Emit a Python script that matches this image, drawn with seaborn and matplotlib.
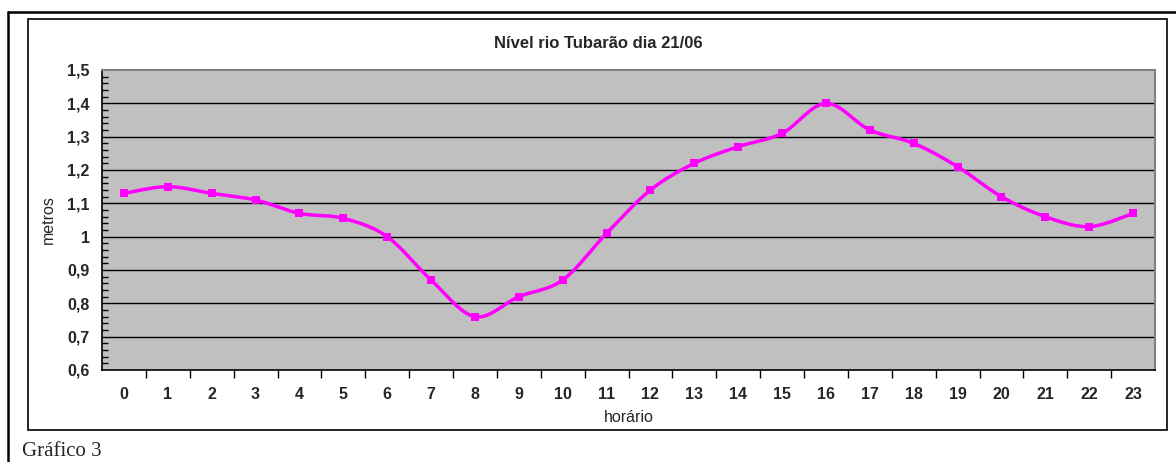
import numpy as np
import pandas as pd
import matplotlib
matplotlib.use("Agg")
import matplotlib.pyplot as plt
from matplotlib.patches import Rectangle
from matplotlib.lines import Line2D
from matplotlib.ticker import MultipleLocator, FixedLocator
import seaborn as sns

# Data
horas = list(range(24))
nivel = [1.13, 1.15, 1.13, 1.11, 1.07, 1.055, 1.00, 0.87, 0.76, 0.82, 0.87, 1.01,
         1.14, 1.22, 1.27, 1.31, 1.40, 1.32, 1.28, 1.21, 1.12, 1.06, 1.03, 1.07]
y_ticks = [0.6, 0.7, 0.8, 0.9, 1.0, 1.1, 1.2, 1.3, 1.4, 1.5]
y_labels = ["0,6", "0,7", "0,8", "0,9", "1", "1,1", "1,2", "1,3", "1,4", "1,5"]

df = pd.DataFrame({"horario": horas, "nivel": nivel})


# Excel-style smoothed line (bezier through the data points)
def smooth_curve(x, y, n=20):
    x = np.asarray(x, float)
    y = np.asarray(y, float)
    px = np.concatenate([[x[0]], x, [x[-1]]])
    py = np.concatenate([[y[0]], y, [y[-1]]])
    xs, ys = [], []
    t = np.linspace(0, 1, n)
    for i in range(len(x) - 1):
        p0 = np.array([x[i], y[i]])
        p3 = np.array([x[i + 1], y[i + 1]])
        p1 = p0 + (np.array([px[i + 2], py[i + 2]]) - np.array([px[i], py[i]])) / 6
        p2 = p3 - (np.array([px[i + 3], py[i + 3]]) - np.array([px[i + 1], py[i + 1]])) / 6
        pts = ((1 - t) ** 3)[:, None] * p0 + (3 * (1 - t) ** 2 * t)[:, None] * p1 \
            + (3 * (1 - t) * t ** 2)[:, None] * p2 + (t ** 3)[:, None] * p3
        xs.extend(pts[:, 0])
        ys.extend(pts[:, 1])
    return pd.DataFrame({"horario": xs, "nivel": ys})


sns.set_theme(style="white")
plt.rcParams["font.family"] = ["Liberation Sans", "DejaVu Sans"]

fig = plt.figure(figsize=(11.76, 4.62), dpi=100)
W, H = 1176, 462
ax = fig.add_axes([102 / W, 1 - 370 / H, (1155 - 102) / W, (370 - 70) / H])
ax.set_facecolor("#C0C0C0")

magenta = "#FF00FF"
sns.lineplot(data=smooth_curve(horas, nivel), x="horario", y="nivel", ax=ax,
             color=magenta, linewidth=2.5, sort=False, estimator=None)
sns.scatterplot(data=df, x="horario", y="nivel", ax=ax, color=magenta,
                marker="s", s=40, linewidth=0, zorder=5)

ax.set_xlim(-0.5, 23.5)
ax.set_ylim(0.6, 1.5)

for v in y_ticks[1:-1]:
    ax.axhline(v, color="black", linewidth=1.0, zorder=1)

ax.set_yticks(y_ticks)
ax.set_yticklabels(y_labels, fontsize=11.5, fontweight="bold")
ax.yaxis.set_minor_locator(MultipleLocator(0.02))
ax.tick_params(axis="y", which="major", direction="out", length=6, width=1, color="black", pad=3)
ax.tick_params(axis="y", which="minor", direction="in", length=4, width=1, color="black")
ax.tick_params(axis="y", which="minor", left=True)

ax.set_xticks(horas)
ax.set_xticklabels([str(h) for h in horas], fontsize=11.5, fontweight="bold")
ax.tick_params(axis="x", which="major", length=0, pad=12)
ax.xaxis.set_minor_locator(FixedLocator(np.arange(0.5, 23.5, 1)))
ax.tick_params(axis="x", which="minor", direction="out", length=6, width=1,
               color="black", bottom=True)

for side in ["left", "bottom"]:
    ax.spines[side].set_color("black")
    ax.spines[side].set_linewidth(1.2)
for side in ["top", "right"]:
    ax.spines[side].set_color("#808080")
    ax.spines[side].set_linewidth(1.5)

ax.set_xlabel("horário", fontsize=11.5)
ax.set_ylabel("metros", fontsize=11.5)
ax.xaxis.set_label_coords(0.5, -0.135)
ax.yaxis.set_label_coords(-0.044, 0.5)

fig.text(598 / W, 1 - 43 / H, "Nível rio Tubarão dia 21/06", ha="center", va="center",
         fontsize=12, fontweight="bold")

# chart frame and page borders
fig.patches.append(Rectangle((28 / W, 1 - 430 / H), (1167 - 28) / W, (430 - 19) / H,
                             transform=fig.transFigure, fill=False, edgecolor="black",
                             linewidth=1.2))
fig.lines.append(Line2D([8 / W, 1], [1 - 12 / H, 1 - 12 / H], transform=fig.transFigure,
                        color="black", linewidth=1.8))
fig.lines.append(Line2D([8 / W, 8 / W], [0, 1 - 12 / H], transform=fig.transFigure,
                        color="black", linewidth=1.8))

fig.text(22 / W, 1 - 451 / H, "Gráfico 3", ha="left", va="center", fontsize=15,
         family=["Liberation Serif", "DejaVu Serif"])

fig.savefig("out.png", dpi=100)
